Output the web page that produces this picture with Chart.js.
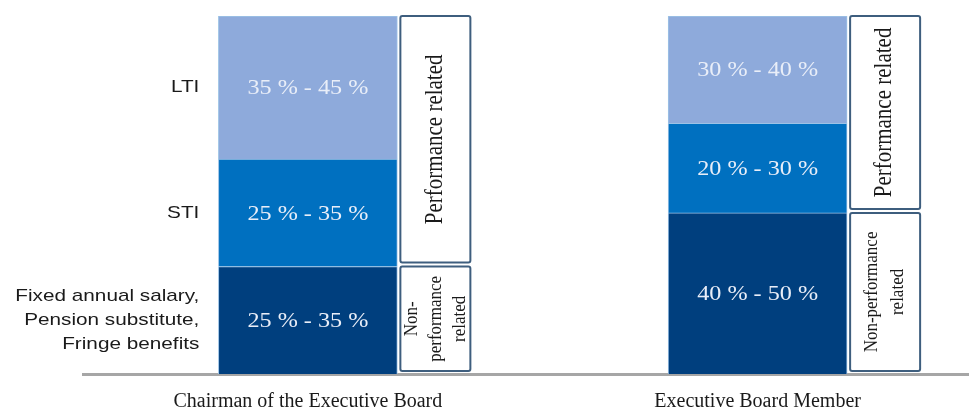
<!DOCTYPE html>
<html>
<head>
<meta charset="utf-8">
<script src="https://cdn.jsdelivr.net/npm/chart.js@4/dist/chart.umd.min.js"></script>
<style>
  html, body { margin: 0; padding: 0; background: #fff; overflow: hidden; }
  #wrap { width: 969px; height: 409px; }
</style>
</head>
<body>
<div id="wrap"><canvas id="mixChart"></canvas></div>
<script>
// Categories and shares (bottom to top)
const categories = ['Chairman of the Executive Board', 'Executive Board Member'];
const fixedShare = [30, 45];
const stiShare = [30, 25];
const ltiShare = [40, 30];

const fixedRange = ['25 % - 35 %', '40 % - 50 %'];
const stiRange = ['25 % - 35 %', '20 % - 30 %'];
const ltiRange = ['35 % - 45 %', '30 % - 40 %'];

// Row labels on the left (bottom to top)
const rowLabels = [
    ['Fixed annual salary,', 'Pension substitute,', 'Fringe benefits'],
    ['STI'],
    ['LTI']
];

const perfLabels = [['Performance related'], ['Performance related']];
const nonPerfLabels = [['Non-', 'performance', 'related'], ['Non-performance', 'related']];

const serif = "'Liberation Serif', 'Times New Roman', serif";
const sans = "'Liberation Sans', Arial, sans-serif";

function points(values) {
    return values.map((v, i) => ({ x: i, y: v }));
}

// the source picture is a bit wider than tall, so stretch the flat text
function wideText(c, text, x, y, sx) {
    c.save();
    c.translate(x, y);
    c.scale(sx, 1);
    c.fillText(text, 0, 0);
    c.restore();
}

const ctx = document.getElementById('mixChart').getContext('2d');

const rangeLabels = [fixedRange, stiRange, ltiRange];

const overlay = {
    id: 'overlay',
    afterDatasetsDraw(chart) {
        const c = chart.ctx;
        c.save();

        // range text inside each segment
        c.textAlign = 'center';
        c.textBaseline = 'middle';
        c.font = '22px ' + serif;
        c.fillStyle = '#e9eef8';
        rangeLabels.forEach((labels, d) => {
            chart.getDatasetMeta(d).data.forEach((bar, j) => {
                wideText(c, labels[j], bar.x, (bar.y + bar.base) / 2 + 1, 1.1);
            });
        });

        // row labels next to the first bar
        c.textAlign = 'right';
        c.font = '17px ' + sans;
        c.fillStyle = '#1a1a1a';
        rowLabels.forEach((lines, d) => {
            const bar = chart.getDatasetMeta(d).data[0];
            const cy = (bar.y + bar.base) / 2;
            const lh = 24;
            lines.forEach((t, k) => {
                wideText(c, t, bar.x - bar.width / 2 - 19, cy + (k - (lines.length - 1) / 2) * lh, 1.22);
            });
        });

        // bracket boxes at the right of each bar
        categories.forEach((cat, j) => {
            const fixedBar = chart.getDatasetMeta(0).data[j];
            const ltiBar = chart.getDatasetMeta(2).data[j];
            const x0 = fixedBar.x + fixedBar.width / 2 + 3;
            const w = 70;

            const boxes = [
                { top: ltiBar.y, bottom: fixedBar.y - 4, lines: perfLabels[j], size: 21, lh: 20 },
                { top: fixedBar.y, bottom: fixedBar.base - 3, lines: nonPerfLabels[j], size: 17, lh: j === 0 ? 24 : 26 }
            ];
            boxes.forEach(b => {
                c.fillStyle = '#ffffff';
                c.strokeStyle = '#3e5e7e';
                c.lineWidth = 2;
                c.beginPath();
                c.roundRect(x0, b.top, w, b.bottom - b.top, 2);
                c.fill();
                c.stroke();

                c.save();
                c.translate(x0 + w / 2, (b.top + b.bottom) / 2);
                c.rotate(-Math.PI / 2);
                c.scale(1, 1.15);
                c.textAlign = 'center';
                c.textBaseline = 'middle';
                c.fillStyle = '#1a1a1a';
                c.font = b.size + 'px ' + serif;
                b.lines.forEach((t, k) => {
                    c.fillText(t, 0, (k - (b.lines.length - 1) / 2) * b.lh / 1.15);
                });
                c.restore();
            });
        });

        c.restore();
    }
};

new Chart(ctx, {
    type: 'bar',
    data: {
        datasets: [
            {
                label: 'Fixed',
                data: points(fixedShare),
                backgroundColor: '#003f7e',
                borderColor: '#9dc3e6',
                borderWidth: 1
            },
            {
                label: 'STI',
                data: points(stiShare),
                backgroundColor: '#0070c0',
                borderColor: '#9dc3e6',
                borderWidth: 1
            },
            {
                label: 'LTI',
                data: points(ltiShare),
                backgroundColor: '#8eaadb',
                borderColor: '#9dc3e6',
                borderWidth: 1
            }
        ]
    },
    options: {
        responsive: true,
        maintainAspectRatio: false,
        animation: false,
        barThickness: 179,
        layout: {
            padding: { left: 83, top: 16, right: 0, bottom: -21 }
        },
        plugins: {
            legend: { display: false },
            tooltip: { enabled: false }
        },
        scales: {
            x: {
                type: 'linear',
                stacked: true,
                min: -0.5,
                max: 1.47,
                offset: false,
                grid: { display: false, drawTicks: false },
                border: { display: true, color: '#a6a6a6', width: 3 },
                afterBuildTicks: axis => {
                    axis.ticks = categories.map((c, i) => ({ value: i }));
                },
                ticks: {
                    padding: 16,
                    color: '#1a1a1a',
                    font: { family: serif, size: 20 },
                    maxRotation: 0,
                    autoSkip: false,
                    callback: v => categories[v]
                }
            },
            y: {
                stacked: true,
                display: false,
                min: 0,
                max: 100
            }
        }
    },
    plugins: [overlay]
});
</script>
</body>
</html>
